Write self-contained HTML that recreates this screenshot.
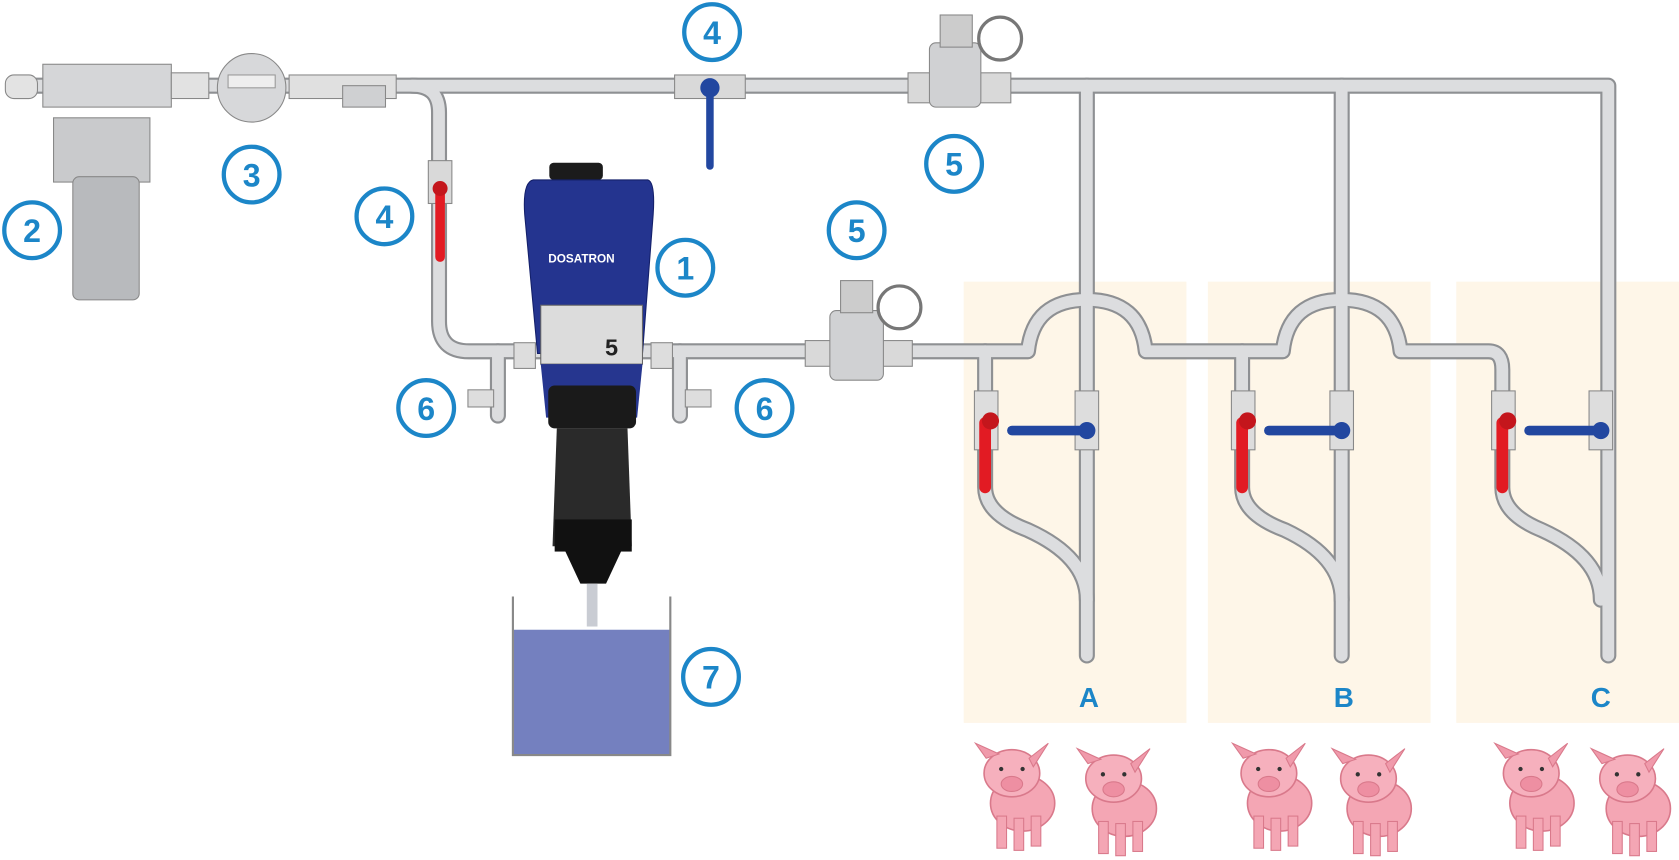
<!DOCTYPE html>
<html><head><meta charset="utf-8"><style>
html,body{margin:0;padding:0;background:#fff;}
svg{display:block}
text{font-family:"Liberation Sans",sans-serif;font-weight:bold}
</style></head><body>
<svg width="1679" height="860" viewBox="0 0 1568 803" preserveAspectRatio="none" xmlns="http://www.w3.org/2000/svg">
<defs>
<g id="pig">
  <ellipse cx="0" cy="10" rx="30" ry="26" fill="#f4a6b4" stroke="#d9798b" stroke-width="1.5"/>
  <rect x="-24" y="22" width="9" height="30" fill="#f4a6b4" stroke="#d9798b"/>
  <rect x="-8" y="24" width="9" height="30" fill="#f4a6b4" stroke="#d9798b"/>
  <rect x="8" y="22" width="9" height="28" fill="#f4a6b4" stroke="#d9798b"/>
  <ellipse cx="-10" cy="-18" rx="26" ry="22" fill="#f6b0bd" stroke="#d9798b" stroke-width="1.5"/>
  <path d="M-34,-32 L-44,-46 L-22,-36 Z" fill="#f09aab" stroke="#d9798b"/>
  <path d="M6,-32 L24,-46 L10,-24 Z" fill="#f09aab" stroke="#d9798b"/>
  <ellipse cx="-10" cy="-8" rx="10" ry="7" fill="#ee8fa2" stroke="#d9798b"/>
  <circle cx="-20" cy="-22" r="2" fill="#333"/><circle cx="0" cy="-22" r="2" fill="#333"/>
</g>
<g id="badge"><circle r="26" fill="#fff" stroke="#1c86c8" stroke-width="4"/></g>
</defs>
<!-- beige zones -->
<rect x="900" y="263" width="208" height="412" fill="#fef6e8"/>
<rect x="1128" y="263" width="208" height="412" fill="#fef6e8"/>
<rect x="1360" y="263" width="208" height="412" fill="#fef6e8"/>

<!-- pipes: outline then fill -->
<g fill="none" stroke-linecap="round" stroke-linejoin="round">
<g stroke="#8e9093" stroke-width="15">
  <path d="M20,80 H1502 V612"/>
  <path d="M1015,80 V612"/><path d="M1253,80 V612"/>
  <path d="M385,80 Q410,80 410,105 V300 Q410,328 438,328 H960 Q965,280 1015,280 Q1065,280 1070,328 H1198 Q1203,280 1253,280 Q1303,280 1308,328 H1390 Q1403,328 1403,345 V455 Q1403,480 1440,495 Q1495,520 1495,560"/>
  <path d="M920,328 V455 Q920,480 960,495 Q1015,520 1015,560"/>
  <path d="M1160,328 V455 Q1160,480 1200,495 Q1253,520 1253,560"/>
  <path d="M465,328 V388"/><path d="M635,328 V388"/>
</g>
<g stroke="#dcdddf" stroke-width="11">
  <path d="M20,80 H1502 V612"/>
  <path d="M1015,80 V612"/><path d="M1253,80 V612"/>
  <path d="M385,80 Q410,80 410,105 V300 Q410,328 438,328 H960 Q965,280 1015,280 Q1065,280 1070,328 H1198 Q1203,280 1253,280 Q1303,280 1308,328 H1390 Q1403,328 1403,345 V455 Q1403,480 1440,495 Q1495,520 1495,560"/>
  <path d="M920,328 V455 Q920,480 960,495 Q1015,520 1015,560"/>
  <path d="M1160,328 V455 Q1160,480 1200,495 Q1253,520 1253,560"/>
  <path d="M465,328 V388"/><path d="M635,328 V388"/>
</g>
</g>

<!-- filter (2) -->
<rect x="5" y="70" width="30" height="22" rx="8" fill="#e3e3e3" stroke="#888"/>
<rect x="40" y="60" width="120" height="40" fill="#d5d6d8" stroke="#888"/>
<rect x="50" y="110" width="90" height="60" fill="#c9cacc" stroke="#888"/>
<rect x="68" y="165" width="62" height="115" rx="6" fill="#b8babd" stroke="#888"/>
<rect x="160" y="68" width="35" height="24" fill="#e2e2e2" stroke="#888"/>
<!-- meter (3) -->
<circle cx="235" cy="82" r="32" fill="#d7d8da" stroke="#888"/>
<rect x="213" y="70" width="44" height="12" fill="#eee" stroke="#999"/>
<rect x="270" y="70" width="100" height="22" fill="#e0e0e0" stroke="#888"/>
<rect x="320" y="80" width="40" height="20" fill="#cfd0d2" stroke="#888"/>

<!-- top blue valve -->
<rect x="630" y="70" width="66" height="22" fill="#d9d9d9" stroke="#888"/>
<circle cx="663" cy="82" r="9" fill="#2247a0"/>
<path d="M663,82 V155" stroke="#2247a0" stroke-width="7" stroke-linecap="round"/>
<!-- top pressure reducer -->
<rect x="848" y="68" width="96" height="28" fill="#d9d9d9" stroke="#888"/>
<rect x="868" y="40" width="48" height="60" rx="6" fill="#d0d1d3" stroke="#888"/>
<rect x="878" y="14" width="30" height="30" fill="#ccc" stroke="#888"/>
<circle cx="934" cy="36" r="20" fill="#fff" stroke="#777" stroke-width="3"/>
<!-- left red valve -->
<rect x="400" y="150" width="22" height="40" fill="#d9d9d9" stroke="#888"/>
<path d="M411,175 V240" stroke="#e21b23" stroke-width="9" stroke-linecap="round"/>
<circle cx="411" cy="176" r="7" fill="#c4161c"/>
<!-- drains 6 -->
<rect x="437" y="364" width="24" height="16" fill="#ddd" stroke="#888"/>
<rect x="640" y="364" width="24" height="16" fill="#ddd" stroke="#888"/>
<!-- lower pressure reducer -->
<rect x="752" y="318" width="100" height="24" fill="#d9d9d9" stroke="#888"/>
<rect x="775" y="290" width="50" height="65" rx="6" fill="#d0d1d3" stroke="#888"/>
<rect x="785" y="262" width="30" height="30" fill="#ccc" stroke="#888"/>
<circle cx="840" cy="287" r="20" fill="#fff" stroke="#777" stroke-width="3"/>

<!-- Dosatron -->
<rect x="513" y="152" width="50" height="16" rx="4" fill="#1b1b1b"/>
<path d="M498,168 H605 Q612,170 610,200 L600,330 H502 L490,200 Q488,170 498,168Z" fill="#24348f" stroke="#14206a"/>
<rect x="505" y="285" width="95" height="55" fill="#dcdcdc" stroke="#666"/>
<text x="512" y="245" font-size="11" fill="#fff">DOSATRON</text>
<text x="565" y="332" font-size="22" fill="#222" font-weight="normal">5</text>
<rect x="480" y="320" width="20" height="24" fill="#ddd" stroke="#888"/>
<rect x="608" y="320" width="20" height="24" fill="#ddd" stroke="#888"/>
<path d="M505,340 H600 L595,390 H510Z" fill="#26368f"/>
<rect x="512" y="360" width="82" height="40" rx="6" fill="#1a1a1a"/>
<path d="M520,400 H586 L590,510 H516Z" fill="#2a2a2a"/>
<rect x="518" y="485" width="72" height="30" fill="#111"/>
<path d="M528,515 H580 L566,545 H542Z" fill="#111"/>
<rect x="548" y="545" width="10" height="40" fill="#c9ccd3"/>
<!-- tank -->
<rect x="480" y="588" width="146" height="117" fill="#7480bf"/>
<path d="M479,557 V705 H626 V557" fill="none" stroke="#888" stroke-width="2"/>

<!-- branch valves -->
<g>
<rect x="910" y="365" width="22" height="55" fill="#ddd" stroke="#888"/>
<path d="M920,395 V455" stroke="#e21b23" stroke-width="11" stroke-linecap="round"/>
<circle cx="925" cy="393" r="8" fill="#c4161c"/>
<rect x="1004" y="365" width="22" height="55" fill="#ddd" stroke="#888"/>
<path d="M945,402 H1015" stroke="#2247a0" stroke-width="9" stroke-linecap="round"/>
<circle cx="1015" cy="402" r="8" fill="#2247a0"/>
</g>
<g transform="translate(240,0)">
<rect x="910" y="365" width="22" height="55" fill="#ddd" stroke="#888"/>
<path d="M920,395 V455" stroke="#e21b23" stroke-width="11" stroke-linecap="round"/>
<circle cx="925" cy="393" r="8" fill="#c4161c"/>
<rect x="1002" y="365" width="22" height="55" fill="#ddd" stroke="#888"/>
<path d="M945,402 H1013" stroke="#2247a0" stroke-width="9" stroke-linecap="round"/>
<circle cx="1013" cy="402" r="8" fill="#2247a0"/>
</g>
<g transform="translate(483,0)">
<rect x="910" y="365" width="22" height="55" fill="#ddd" stroke="#888"/>
<path d="M920,395 V455" stroke="#e21b23" stroke-width="11" stroke-linecap="round"/>
<circle cx="925" cy="393" r="8" fill="#c4161c"/>
<rect x="1001" y="365" width="22" height="55" fill="#ddd" stroke="#888"/>
<path d="M945,402 H1012" stroke="#2247a0" stroke-width="9" stroke-linecap="round"/>
<circle cx="1012" cy="402" r="8" fill="#2247a0"/>
</g>

<!-- badges -->
<g fill="#1c86c8" font-size="30" text-anchor="middle">
<use href="#badge" x="30" y="215"/><text x="30" y="226">2</text>
<use href="#badge" x="235" y="163"/><text x="235" y="174">3</text>
<use href="#badge" x="359" y="202"/><text x="359" y="213">4</text>
<use href="#badge" x="665" y="30"/><text x="665" y="41">4</text>
<use href="#badge" x="891" y="153"/><text x="891" y="164">5</text>
<use href="#badge" x="800" y="215"/><text x="800" y="226">5</text>
<use href="#badge" x="640" y="250"/><text x="640" y="261">1</text>
<use href="#badge" x="398" y="381"/><text x="398" y="392">6</text>
<use href="#badge" x="714" y="381"/><text x="714" y="392">6</text>
<use href="#badge" x="664" y="632"/><text x="664" y="643">7</text>
<text x="1017" y="660" font-size="26">A</text>
<text x="1255" y="660" font-size="26">B</text>
<text x="1495" y="660" font-size="26">C</text>
</g>

<!-- pigs -->
<use href="#pig" x="955" y="740"/><use href="#pig" x="1050" y="745"/>
<use href="#pig" x="1195" y="740"/><use href="#pig" x="1288" y="745"/>
<use href="#pig" x="1440" y="740"/><use href="#pig" x="1530" y="745"/>
</svg>
</body></html>
